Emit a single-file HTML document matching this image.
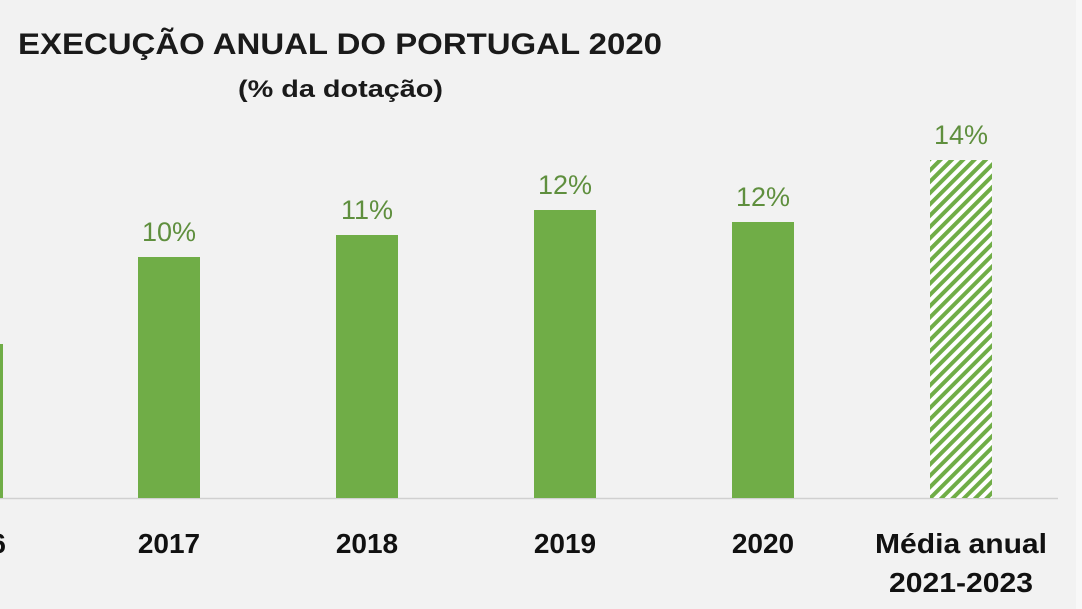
<!DOCTYPE html>
<html><head><meta charset="utf-8"><style>
html,body{margin:0;padding:0;background:#f2f2f2;}
svg{display:block;}
</style></head><body>
<svg width="1082" height="609" viewBox="0 0 1082 609" xmlns="http://www.w3.org/2000/svg" font-family="Liberation Sans, sans-serif">
<defs>
<pattern id="h" patternUnits="userSpaceOnUse" width="8" height="8" patternTransform="rotate(45)">
<rect width="8" height="8" fill="#ffffff"/>
<rect width="4" height="8" fill="#70ad47"/>
</pattern>
</defs>
<rect width="1082" height="609" fill="#f2f2f2"/>
<rect x="1076" y="0" width="6" height="609" fill="#f8f8f8"/>
<text x="18" y="54" font-size="30" font-weight="bold" fill="#1a1a1a" textLength="644" lengthAdjust="spacingAndGlyphs">EXECUÇÃO ANUAL DO PORTUGAL 2020</text>
<text x="238" y="97" font-size="24" font-weight="bold" fill="#1a1a1a" textLength="205" lengthAdjust="spacingAndGlyphs">(% da dotação)</text>
<line x1="0" y1="498.5" x2="1058" y2="498.5" stroke="#d0d0d0" stroke-width="1.5"/>
<rect x="0" y="344" width="3" height="154" fill="#70ad47"/>
<rect x="138" y="257" width="62" height="241" fill="#70ad47"/>
<rect x="336" y="235" width="62" height="263" fill="#70ad47"/>
<rect x="534" y="210" width="62" height="288" fill="#70ad47"/>
<rect x="732" y="222" width="62" height="276" fill="#70ad47"/>
<rect x="930" y="160" width="62" height="338" fill="url(#h)"/>
<g font-size="27" fill="#5f8f3e" text-anchor="middle">
<text x="169" y="241">10%</text>
<text x="367" y="219">11%</text>
<text x="565" y="194">12%</text>
<text x="763" y="206">12%</text>
<text x="961" y="144">14%</text>
</g>
<g font-size="28" font-weight="bold" fill="#111" text-anchor="middle">
<text x="6" y="553" text-anchor="end">2016</text>
<text x="169" y="553">2017</text>
<text x="367" y="553">2018</text>
<text x="565" y="553">2019</text>
<text x="763" y="553">2020</text>
<text x="961" y="553" textLength="172" lengthAdjust="spacingAndGlyphs">Média anual</text>
<text x="961" y="592" textLength="144" lengthAdjust="spacingAndGlyphs">2021-2023</text>
</g>
</svg>
</body></html>
